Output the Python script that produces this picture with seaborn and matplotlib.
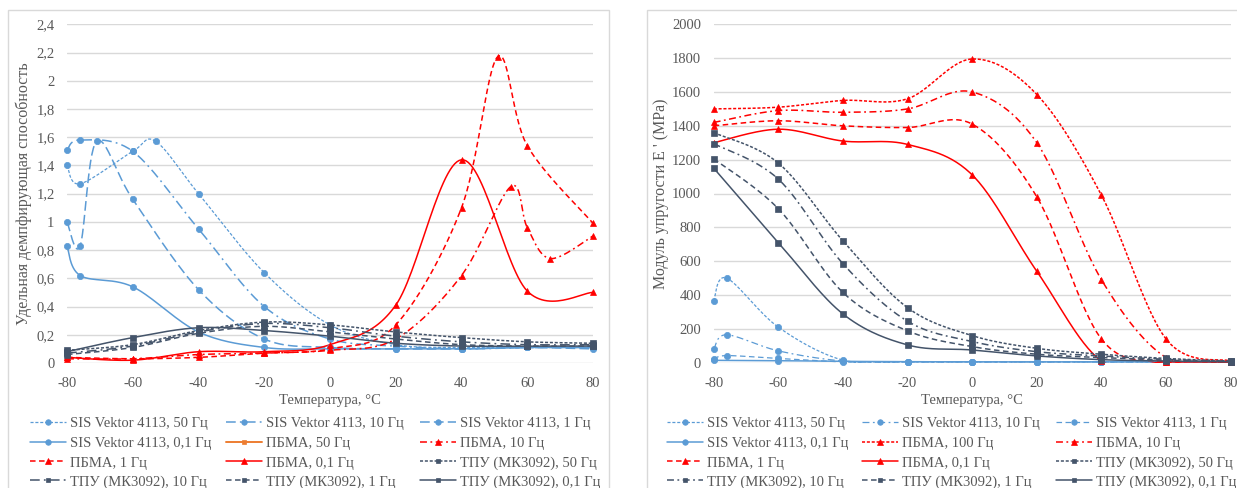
import numpy as np
import matplotlib
matplotlib.use("Agg")
import matplotlib.pyplot as plt
from matplotlib.lines import Line2D
from matplotlib.patches import Rectangle
import seaborn as sns

# ---------------- data: left chart (damping) ----------------
sis50_L_x = [-80, -76, -60, -53, -40, -20, 0, 20, 40, 60, 80]
sis50_L_y = [1.40, 1.27, 1.50, 1.57, 1.20, 0.64, 0.27, 0.13, 0.11, 0.11, 0.11]
sis10_L_x = [-80, -76, -60, -40, -20, 0, 20, 40, 60, 80]
sis10_L_y = [1.51, 1.58, 1.50, 0.95, 0.40, 0.17, 0.12, 0.10, 0.11, 0.11]
sis1_L_x = [-80, -76, -71, -60, -40, -20, 0, 20, 40, 60, 80]
sis1_L_y = [1.00, 0.83, 1.57, 1.16, 0.52, 0.17, 0.11, 0.10, 0.10, 0.11, 0.10]
sis01_L_x = [-80, -76, -60, -40, -20, 0, 20, 40, 60, 80]
sis01_L_y = [0.83, 0.62, 0.54, 0.22, 0.11, 0.10, 0.10, 0.10, 0.11, 0.11]

pb50_L_x = []
pb50_L_y = []
pb10_L_x = [-80, -60, -40, -20, 0, 20, 40, 55, 60, 67, 80]
pb10_L_y = [0.03, 0.03, 0.06, 0.07, 0.09, 0.17, 0.62, 1.25, 0.96, 0.74, 0.90]
pb1_L_x = [-80, -60, -40, -20, 0, 20, 40, 51, 60, 80]
pb1_L_y = [0.04, 0.03, 0.04, 0.07, 0.10, 0.27, 1.10, 2.17, 1.54, 0.99]
pb01_L_x = [-80, -60, -40, -20, 0, 20, 40, 60, 80]
pb01_L_y = [0.04, 0.02, 0.08, 0.08, 0.13, 0.41, 1.44, 0.51, 0.50]

tpu_x = [-80, -60, -40, -20, 0, 20, 40, 60, 80]
tpu50_L_y = [0.09, 0.13, 0.23, 0.29, 0.27, 0.22, 0.18, 0.15, 0.14]
tpu10_L_y = [0.07, 0.12, 0.22, 0.28, 0.25, 0.19, 0.15, 0.13, 0.13]
tpu1_L_y = [0.06, 0.11, 0.21, 0.26, 0.22, 0.17, 0.13, 0.12, 0.12]
tpu01_L_y = [0.08, 0.18, 0.25, 0.23, 0.19, 0.14, 0.12, 0.12, 0.12]

# ---------------- data: right chart (modulus) ----------------
sis_R_x = [-80, -76, -60, -40, -20, 0, 20, 40, 60, 80]
sis50_R_y = [365, 500, 210, 15, 5, 5, 5, 5, 5, 5]
sis10_R_y = [80, 165, 70, 10, 5, 5, 5, 5, 5, 5]
sis1_R_y = [20, 42, 25, 5, 5, 5, 5, 5, 5, 5]
sis01_R_x = [-80, -60, -40, -20, 0, 20, 40, 60, 80]
sis01_R_y = [14, 12, 8, 6, 5, 5, 5, 5, 5]

pb_R_x = [-80, -60, -40, -20, 0, 20, 40, 60, 80]
pb100_R_y = [1500, 1510, 1550, 1560, 1795, 1585, 990, 140, 10]
pb10_R_y = [1420, 1490, 1480, 1500, 1600, 1300, 490, 30, 5]
pb1_R_y = [1400, 1430, 1400, 1390, 1410, 980, 140, 5, 5]
pb01_R_y = [1300, 1380, 1310, 1290, 1110, 540, 10, 5, 5]

tpu50_R_y = [1360, 1180, 720, 325, 160, 85, 50, 25, 10]
tpu10_R_y = [1295, 1085, 585, 245, 125, 65, 40, 20, 8]
tpu1_R_y = [1205, 910, 415, 188, 95, 50, 30, 15, 6]
tpu01_R_y = [1150, 710, 288, 105, 75, 40, 18, 10, 5]

x_ticks = [-80, -60, -40, -20, 0, 20, 40, 60, 80]
left_yticks = [0, 0.2, 0.4, 0.6, 0.8, 1.0, 1.2, 1.4, 1.6, 1.8, 2.0, 2.2, 2.4]
right_yticks = list(range(0, 2001, 200))

labels_left = ["SIS Vektor 4113, 50 Гц", "SIS Vektor 4113, 10 Гц", "SIS Vektor 4113, 1 Гц",
               "SIS Vektor 4113, 0,1 Гц", "ПБМА, 50 Гц", "ПБМА, 10 Гц",
               "ПБМА, 1 Гц", "ПБМА, 0,1 Гц", "ТПУ (МК3092), 50 Гц",
               "ТПУ (МК3092), 10 Гц", "ТПУ (МК3092), 1 Гц", "ТПУ (МК3092), 0,1 Гц"]
labels_right = ["SIS Vektor 4113, 50 Гц", "SIS Vektor 4113, 10 Гц", "SIS Vektor 4113, 1 Гц",
                "SIS Vektor 4113, 0,1 Гц", "ПБМА, 100 Гц", "ПБМА, 10 Гц",
                "ПБМА, 1 Гц", "ПБМА, 0,1 Гц", "ТПУ (МК3092), 50 Гц",
                "ТПУ (МК3092), 10 Гц", "ТПУ (МК3092), 1 Гц", "ТПУ (МК3092), 0,1 Гц"]

# ---------------- style ----------------
sns.set_style("white")
plt.rcParams["font.family"] = ["Liberation Serif", "DejaVu Serif"]
plt.rcParams["lines.scale_dashes"] = False

BLUE = "#5B9BD5"
RED = "#FF0000"
DARK = "#44546A"
ORANGE = "#ED7D31"
GRAY_TXT = "#595959"
GRID = "#D9D9D9"

DOT = (0, (2.2, 1.3))
DASH = (0, (4.0, 2.5))
DASHDOT = (0, (5.0, 2.5, 1.3, 2.5))
LDASH = (0, (7.0, 3.0))
LDASHDOT = (0, (7.0, 3.0, 1.3, 3.0))
SOLID = "-"


def smooth(xs, ys, n=30):
    """Excel-like smoothed line (Bezier through the points)."""
    P = np.column_stack([xs, ys]).astype(float)
    if len(P) < 3:
        return P[:, 0], P[:, 1]
    out = []
    for i in range(len(P) - 1):
        p0 = P[i - 1] if i > 0 else P[i]
        p1 = P[i]
        p2 = P[i + 1]
        p3 = P[i + 2] if i + 2 < len(P) else P[i + 1]
        c1 = p1 + (p2 - p0) / 6.0
        c2 = p2 - (p3 - p1) / 6.0
        t = np.linspace(0, 1, n)[:, None]
        seg = ((1 - t) ** 3) * p1 + 3 * ((1 - t) ** 2) * t * c1 + 3 * (1 - t) * t ** 2 * c2 + t ** 3 * p2
        out.append(seg if i == 0 else seg[1:])
    S = np.vstack(out)
    return S[:, 0], S[:, 1]


def draw(ax, xs, ys, color, ls, marker, ms, lw=1.1, z=3):
    if len(xs) == 0:
        return
    sx, sy = smooth(xs, ys)
    sns.lineplot(x=sx, y=sy, ax=ax, color=color, linestyle=ls, linewidth=lw,
                 sort=False, estimator=None, zorder=z)
    ax.plot(xs, ys, linestyle="none", marker=marker, markersize=ms, color=color,
            markeredgewidth=0.5, zorder=z + 1, clip_on=False)


W, H = 1237, 488
fig = plt.figure(figsize=(W / 100, H / 100), dpi=100)
fig.patch.set_facecolor("white")

# chart frames
fig.patches.append(Rectangle((8 / W, -0.1), (609 - 8) / W, 1 - 10 / H + 0.1,
                             transform=fig.transFigure, fill=False, edgecolor=GRID, lw=1.0))
fig.patches.append(Rectangle((647 / W, -0.1), 0.5, 1 - 10 / H + 0.1,
                             transform=fig.transFigure, fill=False, edgecolor=GRID, lw=1.0))

axL = fig.add_axes([67 / W, 1 - 363 / H, (593 - 67) / W, (363 - 24.3) / H])
axR = fig.add_axes([713.7 / W, 1 - 362.7 / H, (1230.7 - 713.7) / W, (362.7 - 24.3) / H])

left_series = [
    (sis50_L_x, sis50_L_y, BLUE, DOT, "o", 4.5, 0.9),
    (sis10_L_x, sis10_L_y, BLUE, LDASHDOT, "o", 4.5, 1.1),
    (sis1_L_x, sis1_L_y, BLUE, LDASH, "o", 4.5, 1.1),
    (sis01_L_x, sis01_L_y, BLUE, SOLID, "o", 4.5, 1.1),
    (pb50_L_x, pb50_L_y, ORANGE, SOLID, "s", 4.0, 1.4),
    (pb10_L_x, pb10_L_y, RED, DASHDOT, "^", 5.0, 1.1),
    (pb1_L_x, pb1_L_y, RED, DASH, "^", 5.0, 1.1),
    (pb01_L_x, pb01_L_y, RED, SOLID, "^", 5.0, 1.1),
    (tpu_x, tpu50_L_y, DARK, DOT, "s", 4.0, 1.1),
    (tpu_x, tpu10_L_y, DARK, LDASHDOT, "s", 4.0, 1.1),
    (tpu_x, tpu1_L_y, DARK, DASH, "s", 4.0, 1.1),
    (tpu_x, tpu01_L_y, DARK, SOLID, "s", 4.0, 1.1),
]
right_series = [
    (sis_R_x, sis50_R_y, BLUE, DOT, "o", 4.5, 0.9),
    (sis_R_x, sis10_R_y, BLUE, DASHDOT, "o", 4.5, 0.9),
    (sis_R_x, sis1_R_y, BLUE, DASH, "o", 4.5, 0.9),
    (sis01_R_x, sis01_R_y, BLUE, SOLID, "o", 4.5, 1.1),
    (pb_R_x, pb100_R_y, RED, DOT, "^", 5.0, 1.1),
    (pb_R_x, pb10_R_y, RED, DASHDOT, "^", 5.0, 1.1),
    (pb_R_x, pb1_R_y, RED, DASH, "^", 5.0, 1.1),
    (pb_R_x, pb01_R_y, RED, SOLID, "^", 5.0, 1.1),
    (pb_R_x, tpu50_R_y, DARK, DOT, "s", 4.0, 1.1),
    (pb_R_x, tpu10_R_y, DARK, DASHDOT, "s", 4.0, 1.1),
    (pb_R_x, tpu1_R_y, DARK, DASH, "s", 4.0, 1.1),
    (pb_R_x, tpu01_R_y, DARK, SOLID, "s", 4.0, 1.1),
]

for ax, series in ((axL, left_series), (axR, right_series)):
    for xs, ys, c, ls, m, ms, lw in series:
        draw(ax, xs, ys, c, ls, m, ms, lw)

for ax, yt, ylim in ((axL, left_yticks, (0, 2.4)), (axR, right_yticks, (0, 2000))):
    ax.set_xlim(-80, 80)
    ax.set_ylim(*ylim)
    ax.set_xticks(x_ticks)
    ax.set_xticklabels([str(v) for v in x_ticks])
    ax.set_yticks(yt)
    for s in ax.spines.values():
        s.set_visible(False)
    ax.grid(axis="y", color=GRID, lw=1.0)
    ax.grid(axis="x", visible=False)
    ax.set_axisbelow(True)
    ax.tick_params(length=0, labelsize=10.5, labelcolor=GRAY_TXT, pad=10)
    ax.tick_params(axis="y", pad=9)
    ax.set_facecolor("none")
    ax.set_xlabel("Температура, °С", fontsize=10.5, color=GRAY_TXT, labelpad=3)

axL.set_yticklabels([("%g" % v).replace(".", ",") for v in left_yticks])
axR.set_yticklabels([str(v) for v in right_yticks])
axL.set_ylabel("Удельная демпфирующая способность", fontsize=11.5, color=GRAY_TXT, labelpad=3)
axR.set_ylabel("Модуль упругости E ' (MPa)", fontsize=11.5, color=GRAY_TXT, labelpad=2)


def legend_entries(series, labels, col_x, row_y):
    order = [[0, 1, 2], [3, 4, 5], [6, 7, 8], [9, 10, 11]]
    for ri, row in enumerate(order):
        for ci, i in enumerate(row):
            xs, ys, c, ls, m, ms, lw = series[i]
            h = Line2D([], [], color=c, linestyle=ls, linewidth=lw,
                       marker=m, markersize=ms - 0.5, markeredgewidth=0.5)
            leg = fig.legend([h], [labels[i]], loc="center left",
                             bbox_to_anchor=(col_x[ci] / W, 1 - row_y[ri] / H),
                             bbox_transform=fig.transFigure, frameon=False,
                             fontsize=10.5, handlelength=2.5, handletextpad=0.27,
                             borderpad=0, borderaxespad=0, numpoints=1)
            for t in leg.get_texts():
                t.set_color(GRAY_TXT)


rows_y = [423, 443, 463, 482]
legend_entries(left_series, labels_left, [30, 226, 420], rows_y)
legend_entries(right_series, labels_right, [667, 862, 1056], rows_y)

fig.savefig("out.png", dpi=100, facecolor="white")
